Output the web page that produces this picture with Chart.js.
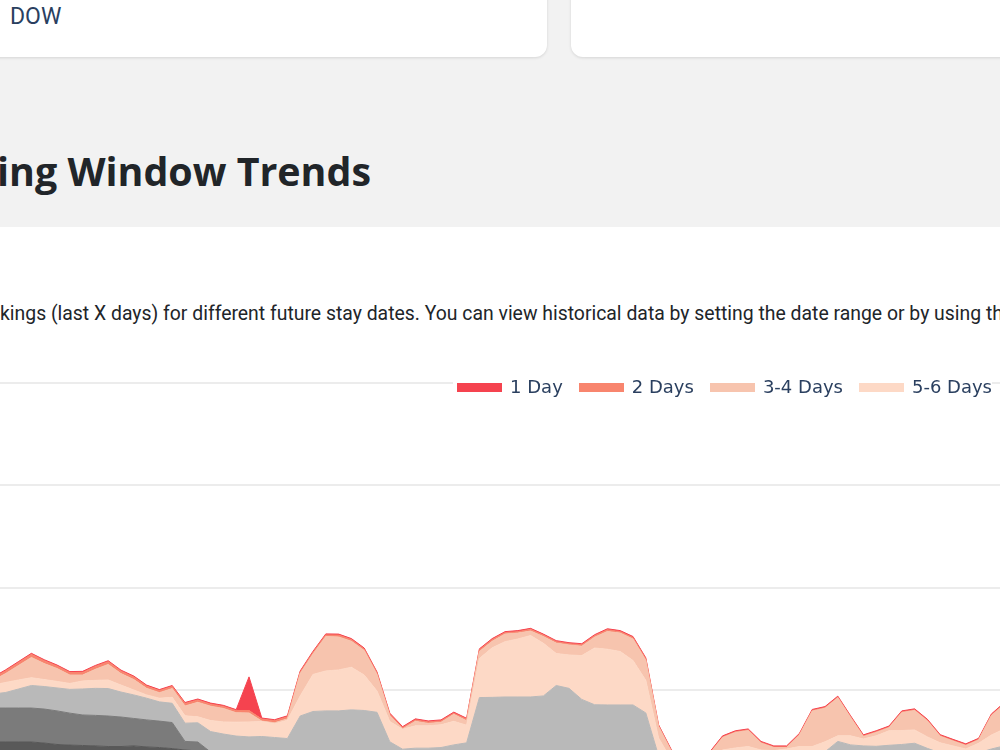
<!DOCTYPE html>
<html>
<head>
<meta charset="utf-8">
<title>Booking Window Trends</title>
<script src="https://cdn.jsdelivr.net/npm/chart.js@4.4.1/dist/chart.umd.min.js"></script>
<style>
  html, body { margin: 0; padding: 0; }
  body { width: 1000px; height: 750px; overflow: hidden; position: relative; background: #f2f2f2; }
  .card { position: absolute; top: -20px; height: 77px; background: #fff; border-radius: 12px; box-shadow: 0 1px 3px rgba(0,0,0,0.12); }
  #cardLeft { left: -30px; width: 577px; }
  #cardRight { left: 571px; width: 480px; }
  #dow { position: absolute; left: 40px; top: 24.6px; font: 23px/23px Roboto, sans-serif; color: #2a3f5f; }
  #title { position: absolute; left: -3px; top: 152px; margin: 0; font: 700 39.4px/39.4px "Open Sans", sans-serif; color: #212529; white-space: nowrap; }
  #panel { position: absolute; left: 0; top: 227px; width: 1000px; height: 523px; background: #fff; }
  #desc { position: absolute; left: 0; top: 303.7px; margin: 0; font: 19.4px/19.4px Roboto, sans-serif; color: #212529; white-space: nowrap; }
  #windowChart { position: absolute; left: -40px; top: 360px; }
  #legend { position: absolute; right: 8px; top: 378px; height: 18px; display: flex; align-items: center; background: #fff; padding-left: 4px; font: 18px/18px "DejaVu Sans", Verdana, sans-serif; color: #2a3f5f; white-space: nowrap; }
  .item { display: flex; align-items: center; margin-left: 16px; }
  .item:first-child { margin-left: 0; }
  .swatch { width: 45px; height: 9px; margin-right: 8px; }
</style>
</head>
<body>
<div class="card" id="cardLeft"><span id="dow">DOW</span></div>
<div class="card" id="cardRight"></div>
<h2 id="title">ing Window Trends</h2>
<div id="panel"></div>
<p id="desc">kings (last X days) for different future stay dates. You can view historical data by setting the date range or by using th</p>
<canvas id="windowChart" width="1090" height="460"></canvas>
<div id="legend"></div>

<script>
// future stay dates, one per day
const stayDates = [];
const firstStay = new Date(Date.UTC(2024, 5, 1));
for (let i = 0; i < 80; i++) {
  const d = new Date(firstStay.getTime() + i * 86400000);
  stayDates.push(d.toISOString().slice(0, 10));
}

// new bookings per stay date, split by how far ahead they were made
const days30Plus = [
  2.47, 2.47, 2.47, 2.47, 2.42, 2.35, 2.32, 2.30, 2.28, 2.25,
  2.25, 2.28, 2.23, 2.20, 2.15, 2.08, 2.03, 1.59, 1.35, 1.20,
  1.20, 1.18, 1.21, 1.19, 1.20, 1.22, 1.20, 1.18, 1.21, 1.20,
  1.20, 1.10, 1.01, 1.01, 1.01, 1.01, 1.01, 1.10, 1.20, 1.20,
  1.21, 1.20, 1.18, 1.20, 1.22, 1.20, 1.19, 1.21, 1.20, 1.20,
  1.20, 1.20, 1.01, 0.62, 0.42, 0.32, 0.47, 0.71, 0.81, 0.81,
  0.81, 0.76, 0.81, 0.86, 0.86, 0.91, 1.01, 1.01, 1.01, 1.01,
  1.01, 1.01, 1.01, 0.96, 0.91, 0.86, 0.86, 0.91, 0.96, 1.01
];
const days14to29 = [
  1.66, 1.66, 1.66, 1.66, 1.66, 1.64, 1.56, 1.49, 1.49, 1.49,
  1.44, 1.34, 1.32, 1.29, 1.27, 0.42, 0.44, 0.39, 0.44, 0.49,
  0.49, 0.49, 0.49, 0.49, 0.49, 0.54, 0.54, 0.54, 0.54, 0.54,
  0.49, 0.49, 0.49, 0.49, 0.49, 0.49, 0.49, 0.49, 0.54, 0.54,
  0.54, 0.54, 0.54, 0.54, 0.54, 0.54, 0.54, 0.54, 0.54, 0.54,
  0.54, 0.49, 0.39, 0.29, 0.20, 0.20, 0.29, 0.39, 0.39, 0.44,
  0.39, 0.39, 0.39, 0.44, 0.49, 0.49, 0.49, 0.49, 0.49, 0.49,
  0.49, 0.49, 0.49, 0.49, 0.44, 0.44, 0.44, 0.44, 0.49, 0.49
];
const days7to13 = [
  0.68, 0.76, 0.93, 1.10, 1.10, 1.12, 1.16, 1.27, 1.32, 1.34,
  1.22, 1.15, 1.06, 0.94, 0.94, 0.89, 0.94, 1.00, 1.07, 1.07,
  1.03, 1.07, 0.99, 0.96, 2.05, 2.20, 2.25, 2.27, 2.29, 2.27,
  2.23, 0.89, 0.62, 0.67, 0.67, 0.70, 0.83, 0.84, 2.90, 2.91,
  2.92, 2.93, 2.95, 2.98, 3.47, 3.35, 2.82, 2.54, 2.54, 2.54,
  2.54, 2.20, 0.39, 0.29, 0.24, 0.20, 0.34, 0.39, 0.39, 0.44,
  0.39, 0.34, 0.39, 0.44, 0.44, 0.59, 1.00, 0.83, 0.78, 0.76,
  0.81, 0.85, 0.91, 0.71, 0.59, 0.54, 0.49, 0.59, 0.68, 0.78
];
const days5to6 = [
  0.44, 0.49, 0.44, 0.38, 0.34, 0.32, 0.29, 0.39, 0.39, 0.42,
  0.34, 0.24, 0.16, 0.18, 0.29, 0.36, 0.29, 0.54, 0.59, 0.68,
  0.73, 0.73, 0.67, 0.89, 0.98, 1.81, 1.95, 2.00, 2.08, 1.73,
  1.04, 0.99, 0.97, 1.09, 1.09, 1.11, 1.15, 0.86, 1.91, 2.42,
  2.70, 2.83, 3.00, 2.57, 1.56, 1.63, 2.14, 2.77, 2.72, 2.61,
  2.17, 1.59, 0.88, 0.39, 0.24, 0.15, 0.39, 0.59, 0.59, 0.56,
  0.49, 0.56, 0.54, 0.51, 0.46, 0.49, 0.27, 0.44, 0.34, 0.51,
  0.71, 0.68, 0.65, 0.56, 0.49, 0.44, 0.34, 0.47, 0.68, 0.83
];
const days3to4 = [
  0.22, 0.44, 0.71, 0.99, 0.78, 0.63, 0.41, 0.29, 0.54, 0.76,
  0.56, 0.51, 0.32, 0.27, 0.43, 0.48, 0.71, 0.70, 0.66, 0.46,
  0.44, 0.02, 0.05, 0.07, 1.10, 1.00, 1.68, 1.61, 1.27, 1.20,
  0.81, 0.29, 0.02, 0.22, 0.12, 0.12, 0.34, 0.22, 0.34, 0.32,
  0.37, 0.29, 0.22, 0.33, 0.51, 0.49, 0.46, 0.53, 0.87, 0.90,
  1.05, 0.98, 0.56, 0.42, 0.17, 0.17, 0.42, 0.61, 0.76, 0.78,
  0.34, 0.15, 0.07, 0.56, 1.73, 1.64, 1.86, 0.90, 0.12, 0.17,
  0.15, 0.88, 0.95, 0.78, 0.32, 0.24, 0.17, 0.16, 0.95, 1.20
];
const days2 = [
  0.12, 0.13, 0.14, 0.15, 0.14, 0.12, 0.12, 0.13, 0.14, 0.13,
  0.12, 0.12, 0.11, 0.10, 0.10, 0.12, 0.11, 0.10, 0.10, 0.10,
  0.12, 0.10, 0.10, 0.10, 0.07, 0.08, 0.08, 0.09, 0.08, 0.07,
  0.07, 0.07, 0.06, 0.07, 0.07, 0.07, 0.06, 0.07, 0.08, 0.08,
  0.07, 0.07, 0.08, 0.07, 0.07, 0.06, 0.07, 0.07, 0.08, 0.07,
  0.07, 0.07, 0.03, 0.03, 0.03, 0.03, 0.03, 0.03, 0.03, 0.03,
  0.03, 0.03, 0.03, 0.03, 0.03, 0.03, 0.03, 0.03, 0.03, 0.03,
  0.03, 0.03, 0.03, 0.03, 0.03, 0.03, 0.03, 0.03, 0.03, 0.03
];
const days1 = [
  0.05, 0.05, 0.05, 0.05, 0.05, 0.05, 0.05, 0.05, 0.05, 0.05,
  0.05, 0.05, 0.05, 0.05, 0.05, 0.05, 0.05, 0.05, 0.05, 0.05,
  1.64, 0.05, 0.05, 0.05, 0.05, 0.05, 0.05, 0.05, 0.05, 0.05,
  0.05, 0.05, 0.05, 0.05, 0.05, 0.05, 0.05, 0.05, 0.05, 0.05,
  0.05, 0.05, 0.05, 0.05, 0.05, 0.05, 0.05, 0.05, 0.05, 0.05,
  0.05, 0.05, 0.05, 0.05, 0.05, 0.05, 0.05, 0.05, 0.05, 0.05,
  0.05, 0.05, 0.05, 0.05, 0.05, 0.05, 0.05, 0.05, 0.05, 0.05,
  0.05, 0.05, 0.05, 0.05, 0.05, 0.05, 0.05, 0.05, 0.05, 0.05
];

// stacked bottom to top
const seriesLabels = ['30+ Days', '14-29 Days', '7-13 Days', '5-6 Days', '3-4 Days', '2 Days', '1 Day'];
const seriesColors = ['#595959', '#7b7b7b', '#b9b9b9', '#fdd9c6', '#f7c4ae', '#f8856e', '#f5434f'];
const seriesData = [days30Plus, days14to29, days7to13, days5to6, days3to4, days2, days1];
const yTickStep = 5;

const datasets = seriesLabels.map(function (label, i) {
  return {
    label: label,
    data: seriesData[i],
    backgroundColor: seriesColors[i],
    borderColor: seriesColors[i],
    borderWidth: 1,
    fill: i === 0 ? 'origin' : '-1',
    pointRadius: 0,
    tension: 0
  };
});

const ctx = document.getElementById('windowChart').getContext('2d');
const windowChart = new Chart(ctx, {
  type: 'line',
  data: { labels: stayDates, datasets: datasets },
  options: {
    responsive: false,
    animation: false,
    layout: { padding: { left: 33, right: 45.8, top: 23, bottom: 27.4 } },
    plugins: { legend: { display: false }, tooltip: { enabled: false } },
    scales: {
      x: { display: false },
      y: {
        stacked: true,
        min: 0,
        max: 20,
        ticks: { display: false, stepSize: yTickStep },
        border: { display: false },
        grid: { color: '#ececec', lineWidth: 2, drawTicks: false }
      }
    }
  }
});

// html legend, short booking windows first
const legendEl = document.getElementById('legend');
for (let i = seriesLabels.length - 1; i >= 3; i--) {
  const item = document.createElement('span');
  item.className = 'item';
  const sw = document.createElement('span');
  sw.className = 'swatch';
  sw.style.background = seriesColors[i];
  const txt = document.createElement('span');
  txt.textContent = seriesLabels[i];
  item.appendChild(sw);
  item.appendChild(txt);
  legendEl.appendChild(item);
}
</script>
</body>
</html>
